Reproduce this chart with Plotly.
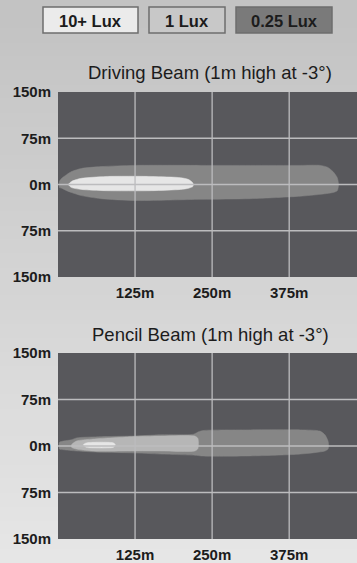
import plotly.graph_objects as go

W, H = 357, 563

# legend swatches
LEGEND_LABELS = ["10+ Lux", "1 Lux", "0.25 Lux"]
LEGEND_COLORS = ["#ebebeb", "#c8c8c8", "#7a7a7a"]

TITLES = ["Driving Beam (1m high at -3°)", "Pencil Beam (1m high at -3°)"]

X_TICKS = [125, 250, 375]
X_TICK_TEXT = ["125m", "250m", "375m"]
Y_TICKS = [150, 75, 0, -75, -150]
Y_TICK_TEXT = ["150m", "75m", "0m", "75m", "150m"]

# beam outlines: distance ahead (m), offset left/right (m)
DRIVE_025_X = [2.5, 6, 14, 22, 38, 70, 125, 232, 312, 393, 425, 437, 446, 453, 455,
               453, 446, 425, 393, 312, 232, 125, 70, 38, 22, 14, 6, 2.5]
DRIVE_025_Y = [5, 10, 16, 21, 26, 29, 31, 31, 31, 31, 31, 28, 21, 11, 0,
               -10, -13, -16, -19, -23, -24, -26, -23, -18, -13, -10, -6, -5]

DRIVE_10_X = [17, 22, 30, 38, 78, 151, 199, 212, 219, 219, 212, 199, 151, 78, 38, 22]
DRIVE_10_Y = [0, 5, 8, 10, 13, 13, 11, 8, 2, -3, -6, -8, -10, -10, -8, -5]

PENCIL_025_X = [2.5, 9, 22, 30, 70, 119, 167, 220, 228, 236, 312, 393, 425, 433, 438, 439,
                438, 433, 393, 312, 232, 224, 167, 119, 70, 30, 9, 2.5]
PENCIL_025_Y = [6, 8, 10, 13, 15, 16, 18, 19, 23, 25, 26, 26, 24, 18, 8, 0,
                -5, -8, -13, -16, -16, -15, -13, -11, -10, -8, -6, -5]

PENCIL_1_X = [22, 30, 54, 119, 167, 222, 227, 227, 222, 167, 119, 54, 30, 22]
PENCIL_1_Y = [2, 8, 11, 15, 16, 16, 12, -4, -8, -8, -8, -8, -5, -2]

PENCIL_10_X = [41, 46, 62, 78, 90, 93, 90, 78, 62, 46]
PENCIL_10_Y = [2, 5, 6, 6, 5, 2, -2, -3, -3, -2]

BEAM_COLORS = {"0.25": "#868686", "1": "#b6b6b6", "10": "#e6e6e6"}
FONT = "Liberation Sans"
TEXT = "#1c1c1c"


def px(x):
    return x / W


def py(y):
    return 1 - y / H


fig = go.Figure()

# plot areas in pixels (left, top, right, bottom)
areas = [(58, 92, 357, 277), (58, 353, 357, 539)]
beams = [
    [(DRIVE_025_X, DRIVE_025_Y, "0.25"), (DRIVE_10_X, DRIVE_10_Y, "10")],
    [(PENCIL_025_X, PENCIL_025_Y, "0.25"), (PENCIL_1_X, PENCIL_1_Y, "1"),
     (PENCIL_10_X, PENCIL_10_Y, "10")],
]

shapes = []
annotations = []

# background gradient
n = 40
c0, c1 = 0xc3, 0xe6
for i in range(n):
    v = int(c0 + (c1 - c0) * i / (n - 1))
    shapes.append(dict(type="rect", xref="paper", yref="paper", layer="below",
                       x0=0, x1=1, y0=1 - (i + 1) / n - 0.01, y1=1 - i / n,
                       fillcolor=f"rgb({v},{v},{v})", line_width=0))

tick_font = dict(family=FONT, size=15, color=TEXT, weight="bold")

for k, (l, t, r, b) in enumerate(areas):
    xa = "xaxis" if k == 0 else f"xaxis{k + 1}"
    ya = "yaxis" if k == 0 else f"yaxis{k + 1}"
    xr = "x" if k == 0 else f"x{k + 1}"
    yr = "y" if k == 0 else f"y{k + 1}"

    shapes.append(dict(type="rect", xref="paper", yref="paper", layer="below",
                       x0=px(l), x1=px(r), y0=py(b), y1=py(t),
                       fillcolor="#58585c", line_width=0))

    for xs, ys, lvl in beams[k]:
        fig.add_trace(go.Scatter(
            x=xs + xs[:1], y=ys + ys[:1], xaxis=xr, yaxis=yr,
            mode="lines", fill="toself", fillcolor=BEAM_COLORS[lvl],
            line=dict(color=BEAM_COLORS[lvl], width=0.5, shape="spline", smoothing=0.7),
            hoverinfo="skip", showlegend=False))

    fig.update_layout({
        xa: dict(domain=[px(l), px(r)], range=[0, 485], anchor=yr, automargin=False,
                 tickvals=X_TICKS, ticktext=X_TICK_TEXT, showgrid=False, zeroline=False,
                 ticks="", ticklabelstandoff=5, tickfont=tick_font,
                 showline=False, fixedrange=True),
        ya: dict(domain=[py(b), py(t)], range=[-150, 150], anchor=xr, automargin=False,
                 tickvals=Y_TICKS, ticktext=Y_TICK_TEXT, showgrid=False, zeroline=False,
                 ticks="", ticklabelstandoff=6, tickfont=tick_font,
                 showline=False, fixedrange=True),
    })

    # grid drawn over the beams
    for xv in X_TICKS:
        shapes.append(dict(type="line", xref=xr, yref=f"{yr} domain", layer="above",
                           x0=xv, x1=xv, y0=0, y1=1, line=dict(color="#bcbcbe", width=1.3)))
    for yv in Y_TICKS[1:-1]:
        shapes.append(dict(type="line", xref=f"{xr} domain", yref=yr, layer="above",
                           x0=0, x1=1, y0=yv, y1=yv, line=dict(color="#bcbcbe", width=1.3)))

    annotations.append(dict(text=TITLES[k], xref="paper", yref="paper",
                            x=px(210), y=py(t - 19), xanchor="center", yanchor="middle",
                            showarrow=False,
                            font=dict(family=FONT, size=18.5, color=TEXT, weight=500)))

# legend boxes
boxes = [(43, 138), (149, 225), (236, 332)]
for (x0, x1), lab, col in zip(boxes, LEGEND_LABELS, LEGEND_COLORS):
    shapes.append(dict(type="rect", xref="paper", yref="paper",
                       x0=px(x0), x1=px(x1), y0=py(33), y1=py(7),
                       fillcolor=col, line=dict(color="#6e6e6e", width=1.5)))
    annotations.append(dict(text=lab, xref="paper", yref="paper",
                            x=px((x0 + x1) / 2), y=py(20.5), xanchor="center", yanchor="middle",
                            showarrow=False,
                            font=dict(family=FONT, size=16.5, color=TEXT, weight="bold")))

fig.update_layout(
    width=W, height=H,
    margin=dict(l=0, r=0, t=0, b=0, autoexpand=False),
    paper_bgcolor="#e6e6e6",
    plot_bgcolor="rgba(0,0,0,0)",
    shapes=shapes,
    annotations=annotations,
    showlegend=False,
)

fig.write_html("out.html", config={"displayModeBar": False},
               post_script="document.body.style.margin='0';")
